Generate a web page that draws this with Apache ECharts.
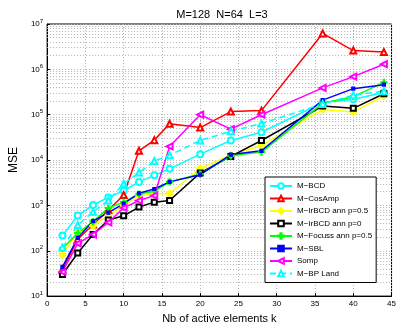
<!DOCTYPE html>
<html>
<head>
<meta charset="utf-8">
<script src="https://cdn.jsdelivr.net/npm/echarts@6/dist/echarts.min.js"></script>
<style>
  html, body { margin: 0; padding: 0; background: #fff; }
  #chart { width: 399px; height: 329px; }
</style>
</head>
<body>
<div id="chart"></div>
<script>
// active elements k
const kValues = [2, 4, 6, 8, 10, 12, 14, 16, 20, 24, 28, 36, 40, 44];

// MSE per method
const mBCD     = [216, 600, 1020, 1500, 2100, 3300, 4600, 6400, 13500, 27000, 41000, 185000, 220000, 310000];
const mCosAmp  = [38, 180, 380, 780, 1700, 16000, 27500, 63000, 52000, 117000, 123000, 6200000, 2600000, 2400000];
const mIrBCD05 = [81, 260, 355, 610, 1000, 1640, 1780, 1830, 6500, 13000, 21000, 130000, 115000, 260000];
const mIrBCD0  = [30, 89, 228, 475, 590, 920, 1180, 1280, 5200, 12000, 27000, 155000, 138000, 290000];
const mFocuss  = [112, 245, 440, 870, 1180, 1780, 2040, 3300, 4900, 12400, 15000, 178000, 250000, 515000];
const mSBL     = [44, 193, 450, 690, 1090, 1850, 2300, 3300, 4750, 13200, 16000, 210000, 375000, 460000];
const sOMP     = [34, 145, 228, 420, 880, 1280, 1640, 20000, 100000, 48000, 100000, 390000, 690000, 1300000];
const mBPLand  = [118, 370, 720, 1280, 3000, 5300, 9500, 12800, 27000, 43000, 64000, 173000, 270000, 330000];

const seriesNames = ['M\u2212BCD', 'M\u2212CosAmp', 'M\u2212IrBCD ann p=0.5', 'M\u2212IrBCD ann p=0',
  'M\u2212Focuss ann p=0.5', 'M\u2212SBL', 'Somp', 'M\u2212BP Land'];

// minor grid for the log axis (2..9 within each decade)
const decades = [10, 100, 1000, 10000, 100000, 1000000];
const minorLines = [];
decades.forEach(d => {
  for (let m = 2; m <= 9; m++) minorLines.push({ yAxis: d * m });
});

const gridColor = '#b4b4b4';
const plusPath = 'path://M4,0L6,0L6,4L10,4L10,6L6,6L6,10L4,10L4,6L0,6L0,4L4,4Z';

function pairs(arr) {
  return kValues.map((k, i) => [k, arr[i]]);
}

function mk(name, data, color, symbol, opts) {
  return Object.assign({
    name: name,
    type: 'line',
    data: pairs(data),
    symbol: symbol,
    symbolSize: 6,
    color: color,
    lineStyle: { width: 1.5, color: color },
    itemStyle: { color: color, borderColor: color, borderWidth: 1.2 },
    z: 3
  }, opts || {});
}

const chart = echarts.init(document.getElementById('chart'), null, { renderer: 'canvas' });

const series = [
  mk(seriesNames[0], mBCD, '#00ffff', 'emptyCircle', {
    markLine: {
      silent: true,
      symbol: 'none',
      label: { show: false },
      lineStyle: { color: gridColor, type: [1, 2], width: 1 },
      emphasis: { disabled: true },
      data: minorLines,
      z: 1
    }
  }),
  mk(seriesNames[1], mCosAmp, '#ff0000', 'emptyTriangle'),
  mk(seriesNames[2], mIrBCD05, '#ffff00', 'diamond', { symbolSize: 7 }),
  mk(seriesNames[3], mIrBCD0, '#000000', 'emptyRect', { symbolSize: 5 }),
  mk(seriesNames[4], mFocuss, '#00ff00', plusPath, { symbolSize: 6 }),
  mk(seriesNames[5], mSBL, '#0000ff', 'rect', { symbolSize: 3 }),
  mk(seriesNames[6], sOMP, '#ff00ff', 'emptyTriangle', { symbolRotate: 90 }),
  mk(seriesNames[7], mBPLand, '#00ffff', 'emptyTriangle', {
    lineStyle: { width: 1.5, color: '#00ffff', type: [6, 4] }
  })
];

const option = {
  animation: false,
  backgroundColor: '#fff',
  textStyle: { fontFamily: 'Liberation Sans, Arial, sans-serif' },
  title: {
    text: 'M=128  N=64  L=3',
    left: 217,
    top: 4,
    textAlign: 'center',
    textStyle: { fontSize: 11, fontWeight: 'normal', color: '#000', fontFamily: 'Liberation Sans, Arial, sans-serif' }
  },
  grid: {
    left: 40, right: 4, top: 24, bottom: 24,
    show: true,
    borderColor: '#000',
    borderWidth: 1,
    backgroundColor: '#fff'
  },
  legend: {
    orient: 'vertical',
    left: 265,
    top: 177,
    data: seriesNames,
    backgroundColor: '#fff',
    borderColor: '#000',
    borderWidth: 1,
    padding: [5, 4, 5, 4],
    itemGap: 4.5,
    itemWidth: 22,
    itemHeight: 7,
    textStyle: { fontSize: 8, color: '#000', fontFamily: 'Liberation Sans, Arial, sans-serif' }
  },
  xAxis: {
    type: 'value',
    min: 0,
    max: 45,
    interval: 5,
    name: 'Nb of active elements k',
    nameLocation: 'middle',
    nameGap: 15,
    nameTextStyle: { fontSize: 11, color: '#000' },
    axisLine: { show: true, lineStyle: { color: '#000' } },
    axisTick: { show: true, inside: true, length: 3, lineStyle: { color: '#000' } },
    axisLabel: { fontSize: 8, color: '#000', margin: 4 },
    splitLine: { show: true, lineStyle: { color: gridColor, type: [1, 2] } }
  },
  yAxis: {
    type: 'log',
    logBase: 10,
    min: 10,
    max: 10000000,
    name: 'MSE',
    nameLocation: 'middle',
    nameGap: 26,
    nameTextStyle: { fontSize: 12, color: '#000' },
    axisLine: { show: true, lineStyle: { color: '#000' } },
    axisTick: { show: true, inside: true, length: 3, lineStyle: { color: '#000' } },
    axisLabel: {
      margin: 4,
      formatter: function (v) {
        const e = Math.round(Math.log10(v));
        return '{b|10}{s|' + e + '}';
      },
      rich: {
        b: { fontSize: 8, color: '#000' },
        s: { fontSize: 6, color: '#000', padding: [0, 0, 6, 0] }
      }
    },
    splitLine: { show: true, lineStyle: { color: gridColor, type: [1, 2] } }
  },
  series: series
};

chart.setOption(option);
</script>
</body>
</html>
